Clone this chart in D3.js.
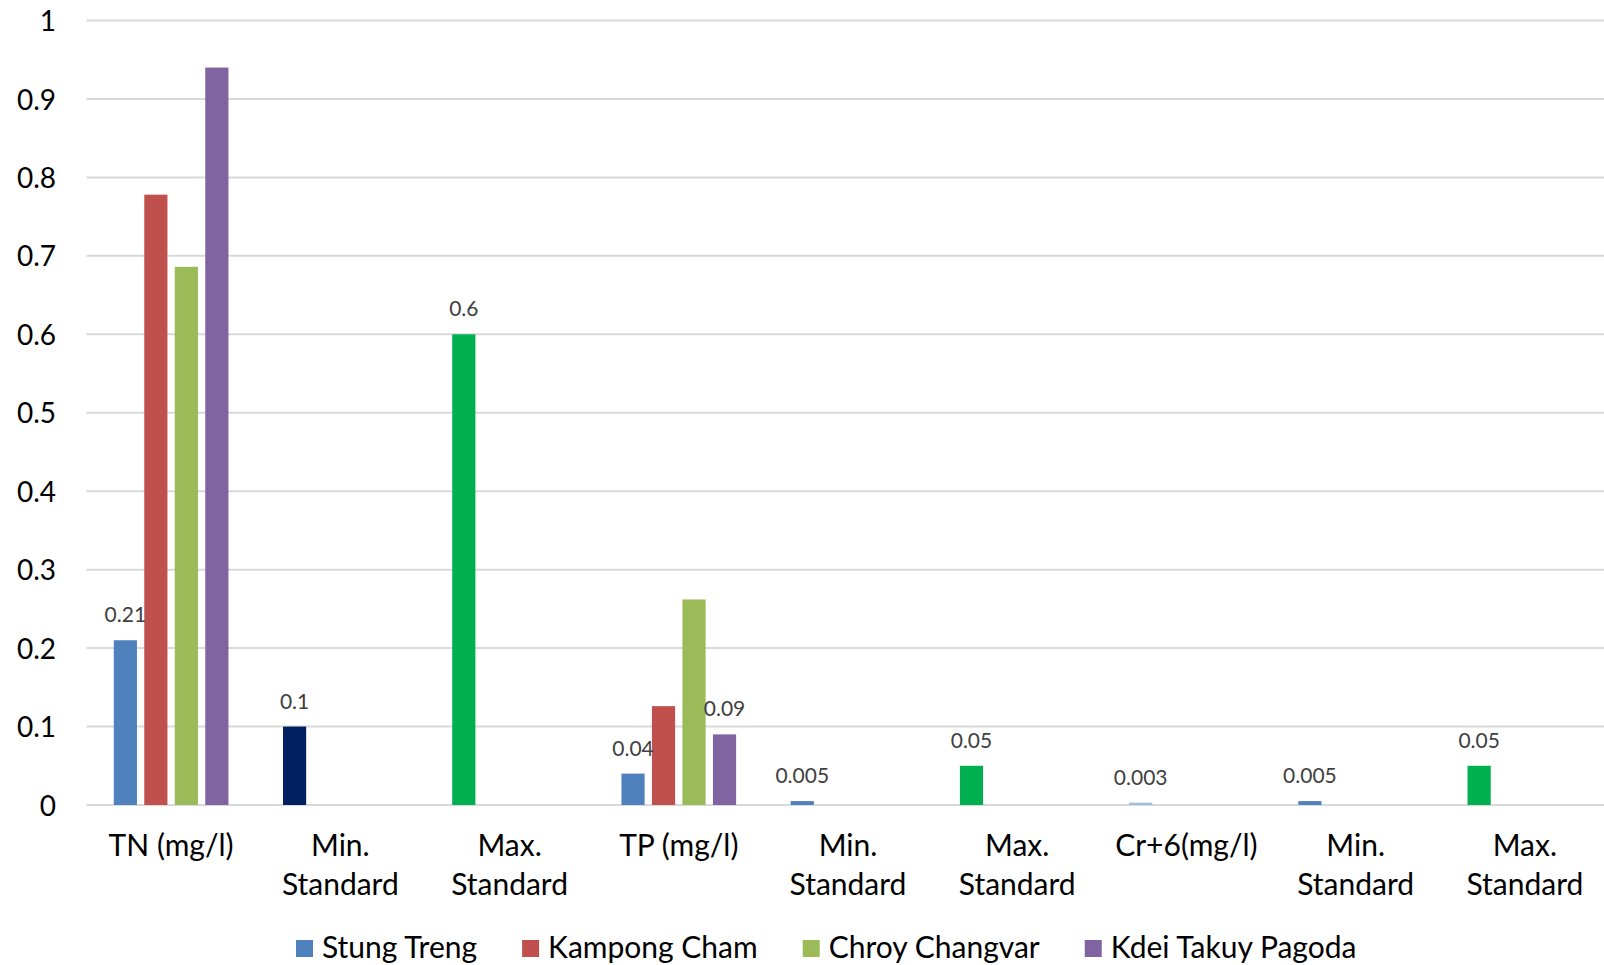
<!DOCTYPE html>
<html>
<head>
<meta charset="utf-8">
<script src="https://cdn.jsdelivr.net/npm/d3@7"></script>
<style>
  html, body { margin: 0; padding: 0; background: #fff; }
  svg { display: block; font-family: Lato, "Open Sans", sans-serif; }
</style>
</head>
<body>
<svg id="chart" width="1604" height="965"></svg>
<script>
// Water quality parameters and their standards
const categories = [
  ["TN (mg/l)"], ["Min.", "Standard"], ["Max.", "Standard"],
  ["TP (mg/l)"], ["Min.", "Standard"], ["Max.", "Standard"],
  ["Cr+6(mg/l)"], ["Min.", "Standard"], ["Max.", "Standard"]
];
const seriesNames = ["Stung Treng", "Kampong Cham", "Chroy Changvar", "Kdei Takuy Pagoda"];
const seriesColors = ["#4f81bd", "#c0504d", "#9bbb59", "#8064a2"];

const stungTreng      = [0.21, 0.1, 0.6, 0.04, 0.005, 0.05, 0.003, 0.005, 0.05];
const kampongCham     = [0.778, null, null, 0.126, null, null, null, null, null];
const chroyChangvar   = [0.686, null, null, 0.262, null, null, null, null, null];
const kdeiTakuyPagoda = [0.94, null, null, 0.09, null, null, null, null, null];

// Individual point colours on the first series (standards highlighted)
const stungTrengPointColors = ["#4f81bd", "#002060", "#00b050", "#4f81bd", "#4f81bd", "#00b050", "#a3bde0", "#4f81bd", "#00b050"];

// Which points carry a value label
const stungTrengLabels      = [true, true, true, true, true, true, true, true, true];
const kampongChamLabels     = [false, false, false, false, false, false, false, false, false];
const chroyChangvarLabels   = [false, false, false, false, false, false, false, false, false];
const kdeiTakuyPagodaLabels = [false, false, false, true, false, false, false, false, false];

const yTicks = [0, 0.1, 0.2, 0.3, 0.4, 0.5, 0.6, 0.7, 0.8, 0.9, 1];

const seriesValues = [stungTreng, kampongCham, chroyChangvar, kdeiTakuyPagoda];
const seriesLabels = [stungTrengLabels, kampongChamLabels, chroyChangvarLabels, kdeiTakuyPagodaLabels];

const svg = d3.select("#chart");

const plotLeft = 86.5, plotRight = 1609.5, plotTop = 20.5, plotBottom = 805;

const x0 = d3.scaleBand()
  .domain(d3.range(categories.length))
  .range([plotLeft, plotRight])
  .paddingInner(0).paddingOuter(0);

const groupWidth = 122;
const x1 = d3.scaleBand()
  .domain(d3.range(seriesNames.length))
  .range([(x0.bandwidth() - groupWidth) / 2, (x0.bandwidth() + groupWidth) / 2])
  .paddingInner(0.24).paddingOuter(0.12);

const y = d3.scaleLinear().domain([0, 1]).range([plotBottom, plotTop]);

// Gridlines
svg.append("g")
  .selectAll("line")
  .data(yTicks)
  .join("line")
  .attr("x1", plotLeft).attr("x2", plotRight)
  .attr("y1", d => y(d)).attr("y2", d => y(d))
  .attr("stroke", "#d9d9d9").attr("stroke-width", 2);

// Y axis labels
const yAxis = d3.axisLeft(y).tickValues(yTicks).tickFormat(d3.format("~g")).tickSize(0).tickPadding(0);
const yG = svg.append("g").attr("transform", `translate(${56},0)`).call(yAxis);
yG.select(".domain").remove();
yG.selectAll("text")
  .attr("font-family", "Lato, sans-serif")
  .attr("font-size", 28)
  .attr("fill", "#000")
  .attr("dy", "0.36em");

// Bars
const points = [];
seriesValues.forEach((vals, s) => {
  vals.forEach((v, i) => {
    if (v === null) return;
    points.push({
      s, i, v,
      color: s === 0 ? stungTrengPointColors[i] : seriesColors[s],
      label: seriesLabels[s][i]
    });
  });
});

svg.append("g")
  .selectAll("rect")
  .data(points)
  .join("rect")
  .attr("x", d => x0(d.i) + x1(d.s))
  .attr("width", x1.bandwidth())
  .attr("y", d => y(d.v))
  .attr("height", d => y(0) - y(d.v))
  .attr("fill", d => d.color);

// Value labels
svg.append("g")
  .selectAll("text")
  .data(points.filter(d => d.label))
  .join("text")
  .attr("x", d => x0(d.i) + x1(d.s) + x1.bandwidth() / 2)
  .attr("y", d => y(d.v) - 18)
  .attr("text-anchor", "middle")
  .attr("font-size", 21)
  .attr("fill", "#404040")
  .text(d => d3.format("~g")(d.v));

// Category labels
const catG = svg.append("g");
categories.forEach((lines, i) => {
  const t = catG.append("text")
    .attr("x", x0(i) + x0.bandwidth() / 2)
    .attr("text-anchor", "middle")
    .attr("font-size", 30)
    .attr("fill", "#000");
  lines.forEach((ln, k) => {
    t.append("tspan")
      .attr("x", x0(i) + x0.bandwidth() / 2)
      .attr("y", 856 + k * 39)
      .text(ln);
  });
});

// Legend
const legend = svg.append("g");
let lx = 296;
seriesNames.forEach((name, s) => {
  legend.append("rect")
    .attr("x", lx).attr("y", 940)
    .attr("width", 17).attr("height", 17)
    .attr("fill", seriesColors[s]);
  const t = legend.append("text")
    .attr("x", lx + 26).attr("y", 958)
    .attr("font-size", 30)
    .attr("fill", "#000")
    .text(name);
  lx += 26 + t.node().getComputedTextLength() + 45;
});
</script>
</body>
</html>
